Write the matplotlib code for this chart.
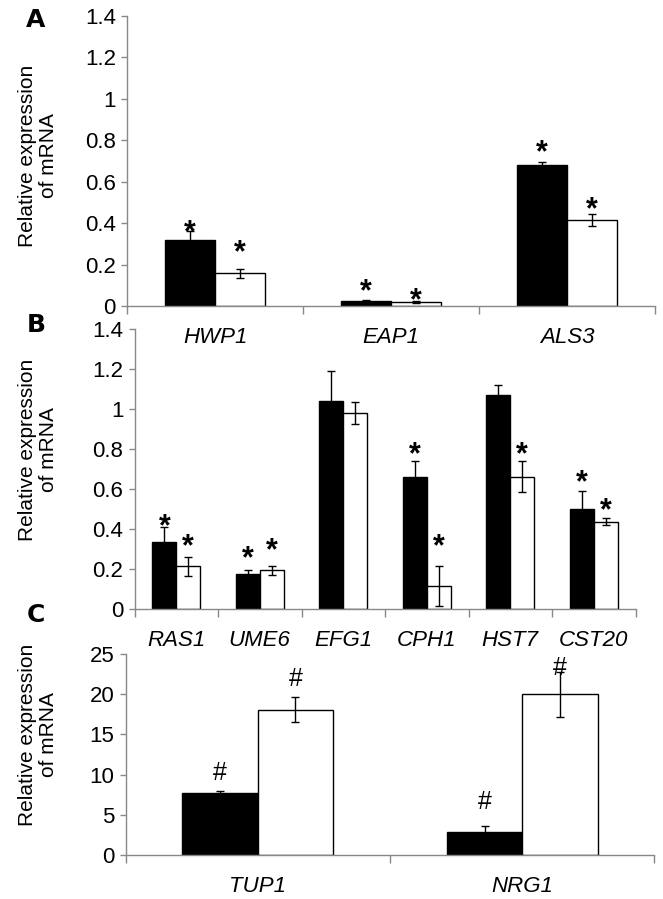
import numpy as np
import matplotlib
matplotlib.use("Agg")
import matplotlib.pyplot as plt
from matplotlib.ticker import FixedLocator, NullFormatter
import matplotlib.transforms as mtrans

plt.rcParams['font.family'] = ['Liberation Sans', 'DejaVu Sans']

# panel A
genes_a = ['HWP1', 'EAP1', 'ALS3']
black_a = [0.319, 0.024, 0.682]
black_a_err = [0.043, 0.003, 0.012]
white_a = [0.158, 0.018, 0.415]
white_a_err = [0.022, 0.005, 0.027]
mark_black_a = [0.398, 0.113, 0.782]
mark_white_a = [0.300, 0.072, 0.507]

# panel B
genes_b = ['RAS1', 'UME6', 'EFG1', 'CPH1', 'HST7', 'CST20']
black_b = [0.335, 0.177, 1.040, 0.658, 1.070, 0.500]
black_b_err = [0.073, 0.020, 0.150, 0.083, 0.050, 0.088]
white_b = [0.213, 0.193, 0.980, 0.113, 0.662, 0.436]
white_b_err = [0.047, 0.022, 0.053, 0.100, 0.076, 0.017]
mark_black_b = [0.455, 0.297, None, 0.818, None, 0.677]
mark_white_b = [0.355, 0.338, None, 0.355, 0.818, 0.535]

# panel C
genes_c = ['TUP1', 'NRG1']
black_c = [7.7, 2.9]
black_c_err = [0.3, 0.75]
white_c = [18.1, 20.0]
white_c_err = [1.5, 2.8]
mark_black_c = [10.4, 6.85]
mark_white_c = [22.1, 23.5]

GRAY = '#888888'
W = 0.285

fig = plt.figure(figsize=(6.63, 8.99), dpi=100)


def mark(ax, x, y, s, size, center_em, weight):
    # place the glyph so its ink centre sits on y
    off = mtrans.offset_copy(ax.transData, fig=fig, x=0, y=-center_em * size, units='points')
    ax.text(x, y, s, transform=off, ha='center', va='baseline', fontsize=size, color='black',
            fontweight=weight)


def panel(rect, genes, blk, blk_e, wht, wht_e, mb, mw, ymax, ystep, yfmt, sym, sym_size, sym_em, weight):
    ax = fig.add_axes(rect)
    x = np.arange(len(genes))
    ekw = dict(ecolor='black', elinewidth=1.0, capsize=3, capthick=1.0)
    ax.bar(x - W / 2, blk, W, yerr=blk_e, color='black', edgecolor='black', linewidth=1.0, error_kw=ekw, zorder=2)
    ax.bar(x + W / 2, wht, W, yerr=wht_e, color='white', edgecolor='black', linewidth=1.0, error_kw=ekw, zorder=2)
    for i in range(len(genes)):
        if mb[i] is not None:
            mark(ax, x[i] - W / 2, mb[i], sym, sym_size, sym_em, weight)
        if mw[i] is not None:
            mark(ax, x[i] + W / 2, mw[i], sym, sym_size, sym_em, weight)
    ax.set_xlim(-0.5, len(genes) - 0.5)
    ax.set_ylim(0, ymax)
    yt = np.arange(0, ymax + ystep / 2, ystep)
    ax.set_yticks(yt)
    ax.set_yticklabels([yfmt(v) for v in yt])
    ax.set_xticks(x)
    ax.set_xticklabels(genes, style='italic', fontsize=16)
    ax.xaxis.set_minor_locator(FixedLocator(np.arange(-0.5, len(genes), 1.0)))
    ax.xaxis.set_minor_formatter(NullFormatter())
    ax.tick_params(axis='x', which='major', length=0, pad=15)
    ax.tick_params(axis='x', which='minor', length=6, width=1, color=GRAY, direction='out')
    ax.tick_params(axis='y', length=4, width=1, color=GRAY, labelsize=16, pad=4)
    for s in ['top', 'right']:
        ax.spines[s].set_visible(False)
    for s in ['left', 'bottom']:
        ax.spines[s].set_color(GRAY)
        ax.spines[s].set_linewidth(1.0)
    ax.patch.set_alpha(0)
    return ax


def fmt_dec(v):
    v = round(v, 1)
    if v == int(v):
        return '%d' % v
    return '%.1f' % v


ax_a = panel([0.1916, 0.6596, 0.7964, 0.3226], genes_a, black_a, black_a_err, white_a, white_a_err,
             mark_black_a, mark_white_a, 1.4, 0.2, fmt_dec, '*', 22, 0.58, 'bold')
ax_b = panel([0.2029, 0.3226, 0.7557, 0.3115], genes_b, black_b, black_b_err, white_b, white_b_err,
             mark_black_b, mark_white_b, 1.4, 0.2, fmt_dec, '*', 22, 0.58, 'bold')
ax_c = panel([0.1894, 0.0489, 0.7977, 0.2236], genes_c, black_c, black_c_err, white_c, white_c_err,
             mark_black_c, mark_white_c, 25, 5, lambda v: '%d' % v, '#', 18, 0.35, 'normal')

# panel letters
for lab, yy in [('A', 20), ('B', 325), ('C', 615)]:
    fig.text(36 / 663, 1 - yy / 899, lab, fontsize=18, fontweight='bold', family='DejaVu Sans',
             ha='center', va='center')

# y labels
for yy in [156, 450, 735]:
    fig.text(38 / 663, 1 - yy / 899, 'Relative expression\nof mRNA', rotation=90, fontsize=15,
             ha='center', va='center', linespacing=1.15)

fig.savefig('out.png', dpi=100)
